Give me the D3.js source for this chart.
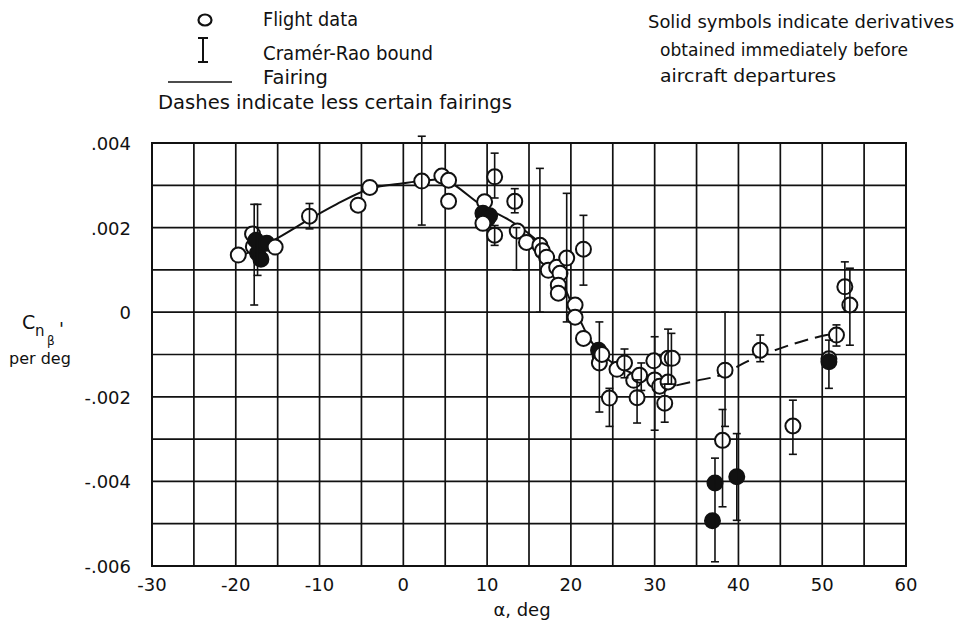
<!DOCTYPE html>
<html><head><meta charset="utf-8">
<script src="https://cdn.jsdelivr.net/npm/d3@7/dist/d3.min.js"></script>
<style>body{margin:0;background:#fff}</style>
</head><body>
<svg id="c" width="966" height="632"></svg>
<script>
// ---- axis ticks ----
const xTickValues = [-30,-20,-10,0,10,20,30,40,50,60];
const xGridValues = [-30,-25,-20,-15,-10,-5,0,5,10,15,20,25,30,35,40,45,50,55,60];
const yTickValues = [0.004,0.002,0,-0.002,-0.004,-0.006];
const yTickLabels = [".004",".002","0","-.002","-.004","-.006"];
const yGridValues = [0.004,0.003,0.002,0.001,0,-0.001,-0.002,-0.003,-0.004,-0.005,-0.006];

// ---- flight data (alpha deg, Cn_beta per deg, solid symbol) ----
const pointAlpha = [-19.7,-18.0,-17.9,-17.6,-17.4,-17.0,-16.3,-15.3,-11.2,-5.4,-4.0,2.2,4.6,5.4,5.4,
  9.7,9.5,10.3,10.0,9.5,10.9,10.9,13.3,13.6,14.7,16.3,16.6,17.1,17.3,18.3,18.7,18.5,18.5,19.5,21.5,
  20.5,20.5,21.5,23.3,23.5,23.4,23.7,24.6,25.5,26.4,27.5,28.2,27.9,29.9,30.0,30.6,31.2,31.6,32.1,31.6,
  38.4,42.6,38.1,37.2,36.9,39.8,46.5,51.7,50.8,50.8,52.7,53.3];
const pointCn = [0.00135,0.00185,0.00155,0.00170,0.00140,0.00125,0.00163,0.00154,0.00227,0.00253,0.00295,0.00310,0.00322,0.00312,0.00262,
  0.00261,0.00234,0.00228,0.00220,0.00210,0.00320,0.00182,0.00262,0.00192,0.00165,0.00158,0.00145,0.00130,0.00099,0.00106,0.00092,0.00064,0.00045,0.00128,0.00149,
  0.00017,-0.00012,-0.00062,-0.00090,-0.00105,-0.00120,-0.00100,-0.00203,-0.00135,-0.00120,-0.00161,-0.00149,-0.00202,-0.00115,-0.00160,-0.00175,-0.00215,-0.00109,-0.00109,-0.00165,
  -0.00137,-0.00090,-0.00303,-0.00404,-0.00493,-0.00389,-0.00269,-0.00054,-0.00110,-0.00117,0.00060,0.00017];
const pointSolid = [0,0,0,1,1,1,1,0,0,0,0,0,0,0,0,
  0,1,1,1,0,0,0,0,0,0,0,0,0,0,0,0,0,0,0,0,
  0,0,0,1,1,0,0,0,0,0,0,0,0,0,0,0,0,0,0,0,
  0,0,0,1,1,1,0,0,0,1,0,0];

// ---- Cramer-Rao bounds ----
const barAlpha = [-17.8,-17.4,-11.2,2.2,10.9,10.9,13.3,13.5,16.3,19.5,21.5,23.4,24.6,26.4,27.9,28.4,30.0,31.2,31.6,32.0,38.4,42.6,38.1,37.2,39.8,46.5,51.7,50.8,52.7,53.3];
const barLow  = [0.00017,0.00087,0.00197,0.00206,0.00270,0.00158,0.00235,0.00100,0.00000,-0.00023,0.00064,-0.00236,-0.00270,-0.00155,-0.00262,-0.00185,-0.00279,-0.00260,-0.00170,-0.00170,-0.00270,-0.00117,-0.00460,-0.00590,-0.00492,-0.00336,-0.00080,-0.00180,0.00000,-0.00078];
const barHigh = [0.00255,0.00255,0.00257,0.00416,0.00376,0.00205,0.00292,0.00200,0.00340,0.00281,0.00229,-0.00023,-0.00180,-0.00087,-0.00160,-0.00120,-0.00058,-0.00170,-0.00040,-0.00050,0.00000,-0.00054,-0.00230,-0.00345,-0.00287,-0.00208,-0.00030,-0.00066,0.00119,0.00104];

// ---- fairings ----
const fairAlpha = [-19.5,-17,-15.5,-11.2,-8,-4,0,2.2,5,6.3,9.3,12.7,14.7,17,18,19,20,21,22,23,25,28,30,32.6];
const fairCn = [0.00132,0.00155,0.00170,0.00220,0.00255,0.00292,0.00305,0.00310,0.00315,0.00298,0.00253,0.00217,0.00190,0.00145,0.00110,0.00070,0.00025,-0.00015,-0.00055,-0.00085,-0.00120,-0.00150,-0.00165,-0.00173];
const dashAlpha = [32.6,35,37.8,41,44.9,50.5,52.5];
const dashCn = [-0.00173,-0.00162,-0.00149,-0.00117,-0.00086,-0.00054,-0.00047];

const svg = d3.select("#c");
const FONT = "'DejaVu Sans','Liberation Sans',Arial,sans-serif";
const INK = "#111";
const x = d3.scaleLinear().domain([-30,60]).range([152,906]);
const y = d3.scaleLinear().domain([-0.006,0.004]).range([566,143]);

// grid
const g = svg.append("g").attr("stroke",INK).attr("stroke-width",1.7);
g.selectAll("line.v").data(xGridValues).join("line").attr("class","v")
  .attr("x1",d=>x(d)).attr("x2",d=>x(d)).attr("y1",y(0.004)).attr("y2",y(-0.006));
g.selectAll("line.h").data(yGridValues).join("line").attr("class","h")
  .attr("y1",d=>y(d)).attr("y2",d=>y(d)).attr("x1",x(-30)).attr("x2",x(60));
svg.append("rect").attr("x",x(-30)).attr("y",y(0.004)).attr("width",x(60)-x(-30)).attr("height",y(-0.006)-y(0.004))
  .attr("fill","none").attr("stroke",INK).attr("stroke-width",2);

// tick labels
svg.append("g").selectAll("text").data(xTickValues).join("text")
  .attr("x",d=>x(d)).attr("y",591).attr("text-anchor","middle").attr("fill",INK)
  .attr("font-family",FONT).attr("font-size",18).text(d=>d);
svg.append("g").selectAll("text").data(yTickValues).join("text")
  .attr("x",131).attr("y",d=>y(d)+7).attr("text-anchor","end").attr("fill",INK)
  .attr("font-family",FONT).attr("font-size",18).text((d,i)=>yTickLabels[i]);

// axis titles
svg.append("text").attr("x",522).attr("y",616).attr("text-anchor","middle").attr("fill",INK)
  .attr("font-family",FONT).attr("font-size",18).text("α, deg");
const yt = svg.append("g").attr("font-family",FONT).attr("fill",INK);
yt.append("text").attr("x",22).attr("y",329).attr("font-size",19).text("C");
yt.append("text").attr("x",35).attr("y",336).attr("font-size",15).text("n");
yt.append("text").attr("x",47).attr("y",345).attr("font-size",12).text("β");
yt.append("text").attr("x",59).attr("y",335).attr("font-size",18).text("'");
yt.append("text").attr("x",9).attr("y",364).attr("font-size",16).text("per deg");

// fairing lines
const line = d3.line().x(d=>x(d[0])).y(d=>y(d[1])).curve(d3.curveMonotoneX);
svg.append("path").datum(fairAlpha.map((a,i)=>[a,fairCn[i]])).attr("d",line)
  .attr("fill","none").attr("stroke",INK).attr("stroke-width",2);
svg.append("path").datum(dashAlpha.map((a,i)=>[a,dashCn[i]])).attr("d",line)
  .attr("fill","none").attr("stroke",INK).attr("stroke-width",2).attr("stroke-dasharray","14,7");

// points
const pts = pointAlpha.map((a,i)=>({a, c:pointCn[i], s:pointSolid[i]}));
svg.append("g").selectAll("circle").data(pts).join("circle")
  .attr("cx",d=>x(d.a)).attr("cy",d=>y(d.c)).attr("r",7.5)
  .attr("fill",d=>d.s?INK:"#fff").attr("stroke",INK).attr("stroke-width",2);

// error bars
const bars = barAlpha.map((a,i)=>({a, lo:barLow[i], hi:barHigh[i]}));
const eb = svg.append("g").attr("stroke",INK).attr("stroke-width",1.6);
eb.selectAll("line.s").data(bars).join("line").attr("class","s")
  .attr("x1",d=>x(d.a)).attr("x2",d=>x(d.a)).attr("y1",d=>y(d.lo)).attr("y2",d=>y(d.hi));
eb.selectAll("line.t").data(bars).join("line").attr("class","t")
  .attr("x1",d=>x(d.a)-4).attr("x2",d=>x(d.a)+4).attr("y1",d=>y(d.hi)).attr("y2",d=>y(d.hi));
eb.selectAll("line.b").data(bars).join("line").attr("class","b")
  .attr("x1",d=>x(d.a)-4).attr("x2",d=>x(d.a)+4).attr("y1",d=>y(d.lo)).attr("y2",d=>y(d.lo));

// legend
const lg = svg.append("g").attr("font-family",FONT).attr("font-size",19).attr("fill",INK);
lg.append("ellipse").attr("cx",205).attr("cy",20).attr("rx",6.5).attr("ry",5.5)
  .attr("fill","none").attr("stroke",INK).attr("stroke-width",2.2);
lg.append("text").attr("x",263).attr("y",26).attr("textLength",95).attr("lengthAdjust","spacingAndGlyphs").text("Flight data");
lg.append("line").attr("x1",203).attr("x2",203).attr("y1",38).attr("y2",62).attr("stroke",INK).attr("stroke-width",2);
lg.append("line").attr("x1",198).attr("x2",208).attr("y1",38).attr("y2",38).attr("stroke",INK).attr("stroke-width",2);
lg.append("line").attr("x1",198).attr("x2",208).attr("y1",62).attr("y2",62).attr("stroke",INK).attr("stroke-width",2);
lg.append("text").attr("x",263).attr("y",60).attr("textLength",170).attr("lengthAdjust","spacingAndGlyphs").text("Cramér-Rao bound");
lg.append("line").attr("x1",168).attr("x2",232).attr("y1",82).attr("y2",82).attr("stroke",INK).attr("stroke-width",1.6);
lg.append("text").attr("x",263).attr("y",84).attr("textLength",65).attr("lengthAdjust","spacingAndGlyphs").text("Fairing");
lg.append("text").attr("x",158).attr("y",109).attr("textLength",354).attr("lengthAdjust","spacingAndGlyphs").text("Dashes indicate less certain fairings");

const note = svg.append("g").attr("font-family",FONT).attr("font-size",17).attr("fill",INK);
note.append("text").attr("x",648).attr("y",28).attr("textLength",306).attr("lengthAdjust","spacingAndGlyphs").text("Solid symbols indicate derivatives");
note.append("text").attr("x",660).attr("y",56).attr("textLength",248).attr("lengthAdjust","spacingAndGlyphs").text("obtained immediately before");
note.append("text").attr("x",660).attr("y",82).attr("textLength",176).attr("lengthAdjust","spacingAndGlyphs").text("aircraft departures");
</script>
</body></html>
